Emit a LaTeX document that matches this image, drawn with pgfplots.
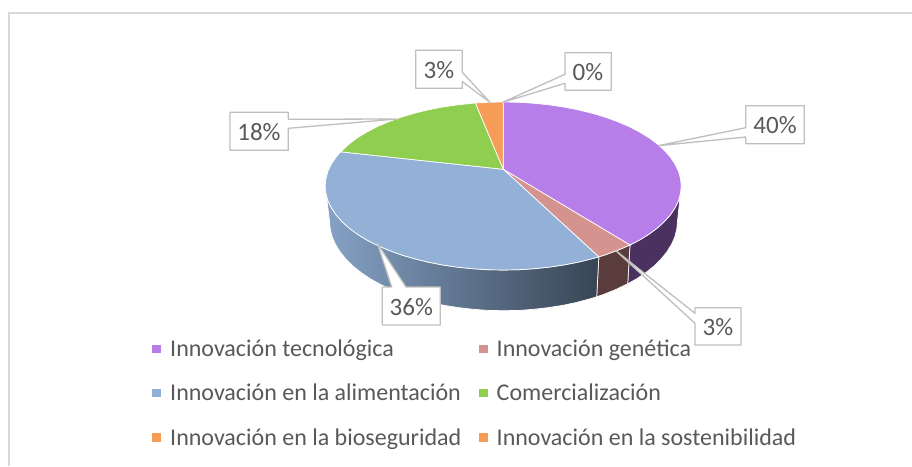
\documentclass[border=0pt]{standalone}
\usepackage{fontspec}
\setmainfont{Carlito}
\usepackage{pgfplots}
\pgfplotsset{compat=1.18}
\definecolor{cpurple}{HTML}{B77DE8}
\definecolor{cpink}{HTML}{D59390}
\definecolor{cblue}{HTML}{93B1D6}
\definecolor{cgreen}{HTML}{8FCE4E}
\definecolor{corange}{HTML}{F59D56}
\definecolor{dpurple}{HTML}{4A3160}
\definecolor{dpink}{HTML}{5A3C3C}
\definecolor{bluel}{HTML}{85A2C6}
\definecolor{blued}{HTML}{384555}
\definecolor{call}{HTML}{BFBFBF}
\definecolor{frame}{HTML}{D9D9D9}
\definecolor{txt}{HTML}{595959}
\begin{document}
\begin{tikzpicture}
\begin{axis}[
  scale only axis, width=912pt, height=466pt,
  xmin=0, xmax=912, ymin=0, ymax=466, y dir=reverse,
  axis lines=none, clip=true,
  every axis plot/.append style={forget plot,line join=round},
]
% page background (keeps the full extent)
\addplot[fill=white,draw=none] coordinates {(0,0) (912,0) (912,466) (0,466)} --cycle;
% frame
\addplot[draw=frame,line width=1.2pt,mark=none] coordinates {(9,466) (9,13) (912,13)};
% sides
\addplot[fill=dpurple,draw=white,line width=0.7pt,mark=none] coordinates {
(630,245) (639.6,240) (649,234.2) (657.3,228) (664.5,221.5) (670.5,214.7) (675.1,207.7) (678.5,200.6) (680.5,193.3) (681.2,186)
(677.5,221) (676.8,228.8) (674.9,236.6) (671.6,244.2) (667,251.7) (661.2,258.9) (654.2,265.9) (646,272.5) (636.8,278.7) (627.7,283.8)} --cycle;
\addplot[fill=dpink,draw=white,line width=0.7pt,mark=none] coordinates {
(598.8,256.8) (605.3,254.8) (617.6,250.3) (630,245)
(627.7,283.8) (615.3,289.7) (603.3,294.5) (596.7,296.8)} --cycle;
\addplot[left color=bluel,right color=blued,draw=white,line width=0.7pt,mark=none] coordinates {
(325.2,186) (325.9,193.3) (327.9,200.6) (331.3,207.7) (335.9,214.7) (341.9,221.5) (349.1,228) (357.4,234.2) (366.8,240) (377.3,245.4) (388.8,250.3) (401.1,254.8) (414.2,258.7) (428,262.1) (442.3,264.9) (457.1,267.1) (472.3,268.7) (487.7,269.7) (503.2,270) (518.7,269.7) (534.1,268.7) (549.3,267.1) (564.1,264.9) (578.4,262.1) (592.2,258.7) (598.8,256.8)
(596.7,296.8) (590.5,298.7) (577,302.3) (563,305.3) (548.5,307.6) (533.7,309.3) (518.7,310.4) (503.5,310.7) (488.3,310.4) (473.3,309.3) (458.5,307.6) (444,305.3) (430,302.3) (416.5,298.7) (403.7,294.5) (391.7,289.7) (380.5,284.4) (370.2,278.7) (361,272.5) (352.8,265.9) (345.8,258.9) (340,251.7) (335.4,244.2) (332.1,236.6) (330.2,228.8) (329.5,221)} --cycle;
% top slices
\addplot[fill=cpurple,draw=white,line width=0.7pt,mark=none] coordinates {
(503.3,169.3) (503.2,102) (518.7,102.3) (534.1,103.3) (549.3,104.9) (564.1,107.1) (578.4,109.9) (592.2,113.3) (605.3,117.2) (617.6,121.7) (629.1,126.6) (639.6,132) (649,137.8) (657.3,144) (664.5,150.5) (670.5,157.3) (675.1,164.3) (678.5,171.4) (680.5,178.7) (681.2,186) (680.5,193.3) (678.5,200.6) (675.1,207.7) (670.5,214.7) (664.5,221.5) (657.3,228) (649,234.2) (639.6,240) (630,245)} --cycle;
\addplot[fill=cpink,draw=white,line width=0.7pt,mark=none] coordinates {
(503.3,169.3) (630,245) (617.6,250.3) (605.3,254.8) (598.8,256.8)} --cycle;
\addplot[fill=cblue,draw=white,line width=0.7pt,mark=none] coordinates {
(503.3,169.3) (598.8,256.8) (592.2,258.7) (578.4,262.1) (564.1,264.9) (549.3,267.1) (534.1,268.7) (518.7,269.7) (503.2,270) (487.7,269.7) (472.3,268.7) (457.1,267.1) (442.3,264.9) (428,262.1) (414.2,258.7) (401.1,254.8) (388.8,250.3) (377.3,245.4) (366.8,240) (357.4,234.2) (349.1,228) (341.9,221.5) (335.9,214.7) (331.3,207.7) (327.9,200.6) (325.9,193.3) (325.2,186) (325.9,178.7) (327.9,171.4) (331.3,164.3) (335.9,157.3) (340.6,151.8)} --cycle;
\addplot[fill=cgreen,draw=white,line width=0.7pt,mark=none] coordinates {
(503.3,169.3) (340.6,151.8) (349.1,144) (357.4,137.8) (366.8,132) (377.3,126.6) (388.8,121.7) (401.1,117.2) (414.2,113.3) (428,109.9) (442.3,107.1) (457.1,104.9) (472.3,103.3) (475.4,103)} --cycle;
\addplot[fill=corange,draw=white,line width=0.7pt,mark=none] coordinates {
(503.3,169.3) (475.4,103) (487.7,102.3) (503.2,102)} --cycle;
% callouts
\addplot[fill=white,draw=call,line width=1.3pt,mark=none] coordinates {
(745.7,105.7) (804.3,105.7) (804.3,143.7) (745.7,143.7) (745.7,137) (658.3,145.7) (745.7,127.7)} --cycle;
\addplot[fill=white,draw=call,line width=1.3pt,mark=none] coordinates {
(695,307.7) (741,307.7) (741,345) (695,345) (695,323.3) (615,250) (695,313.3)} --cycle;
\addplot[fill=white,draw=call,line width=1.3pt,mark=none] coordinates {
(382.3,287) (391.7,287) (377.3,243.3) (406,287) (440.3,287) (440.3,325) (382.3,325)} --cycle;
\addplot[fill=white,draw=call,line width=1.3pt,mark=none] coordinates {
(415.7,50.3) (462.3,50.3) (462.3,72.3) (490,102.3) (462.3,81.7) (462.3,88.3) (415.7,88.3)} --cycle;
\addplot[fill=white,draw=call,line width=1.3pt,mark=none] coordinates {
(565,52.7) (611.3,52.7) (611.3,90.3) (565,90.3) (565,83.3) (502.7,102.3) (565,74.3)} --cycle;
\addplot[fill=white,draw=call,line width=1.3pt,mark=none] coordinates {
(230,112.3) (288.3,112.3) (288.3,119.3) (396.7,119) (288.3,128.3) (288.3,150.3) (230,150.3)} --cycle;
% label text
\begin{scope}[every node/.style={text=txt,font=\fontsize{25}{25}\selectfont,inner sep=0pt}]
\node at (axis cs:775,125) {40\%};
\node at (axis cs:718,327) {3\%};
\node at (axis cs:411.3,307) {36\%};
\node at (axis cs:439,70) {3\%};
\node at (axis cs:588,72) {0\%};
\node at (axis cs:259,132) {18\%};
\end{scope}
% legend
\addplot[only marks,mark=square*,mark size=3.6pt,color=cpurple,mark options={draw=cpurple,fill=cpurple,line width=0pt}] coordinates {(156.5,349)};
\addplot[only marks,mark=square*,mark size=3.6pt,color=cpink,mark options={draw=cpink,fill=cpink,line width=0pt}] coordinates {(483.5,349)};
\addplot[only marks,mark=square*,mark size=3.6pt,color=cblue,mark options={draw=cblue,fill=cblue,line width=0pt}] coordinates {(156.5,393)};
\addplot[only marks,mark=square*,mark size=3.6pt,color=cgreen,mark options={draw=cgreen,fill=cgreen,line width=0pt}] coordinates {(483.5,393)};
\addplot[only marks,mark=square*,mark size=3.6pt,color=corange,mark options={draw=corange,fill=corange,line width=0pt}] coordinates {(156.5,437.5)};
\addplot[only marks,mark=square*,mark size=3.6pt,color=corange,mark options={draw=corange,fill=corange,line width=0pt}] coordinates {(483.5,437.5)};
\begin{scope}[every node/.style={text=txt,font=\fontsize{24}{24}\selectfont,inner sep=0pt,anchor=base west}]
\node at (axis cs:170,356) {Innovación tecnológica};
\node at (axis cs:496.5,356) {Innovación genética};
\node at (axis cs:170,400.5) {Innovación en la alimentación};
\node at (axis cs:496.5,400.5) {Comercialización};
\node at (axis cs:170,445) {Innovación en la bioseguridad};
\node at (axis cs:496.5,445) {Innovación en la sostenibilidad};
\end{scope}
\end{axis}
\end{tikzpicture}
\end{document}
